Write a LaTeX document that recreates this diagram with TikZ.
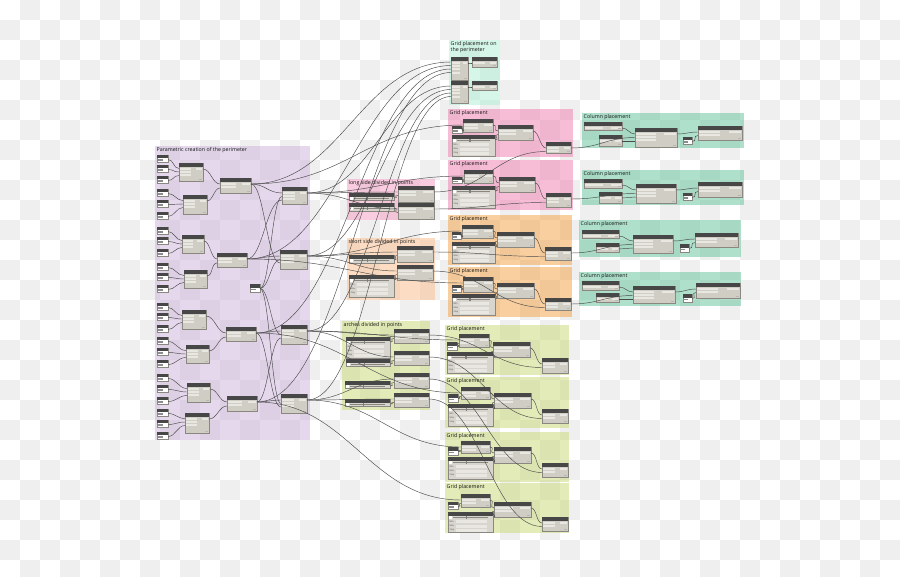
\documentclass[tikz,border=0pt]{standalone}
\usepackage{fontspec}
\setmainfont{Open Sans}
\usetikzlibrary{calc}
\definecolor{chk}{HTML}{EFEFEF}
\definecolor{gpur}{RGB}{205,179,221}
\definecolor{gmint}{RGB}{173,239,213}
\definecolor{gpink}{RGB}{241,125,175}
\definecolor{gorg}{RGB}{245,161,65}
\definecolor{gpeach}{RGB}{251,189,137}
\definecolor{gpinkl}{RGB}{245,155,195}
\definecolor{glime}{RGB}{201,217,115}
\definecolor{gteal}{RGB}{95,195,155}
\definecolor{ng}{HTML}{D0CDC5}
\definecolor{sg}{HTML}{D8D5CE}
\definecolor{nb}{HTML}{8A8781}
\definecolor{hd}{HTML}{474747}
\definecolor{rw}{HTML}{E9E7E2}
\definecolor{wirec}{HTML}{4A4A4A}
\definecolor{titc}{HTML}{151515}
\tikzset{
 wire/.style={draw=wirec, line width=0.45pt},
 dn/.style={draw=nb, fill=ng, line width=0.3pt, inner sep=0pt, outer sep=0pt, anchor=north west, rectangle},
 gtitle/.style={anchor=north west, inner sep=0pt, font=\fontsize{5.3}{6.3}\selectfont, text=titc, align=left},
 tinylab/.style={inner sep=0pt, font=\fontsize{2.2}{2.4}\selectfont, text=black!70, anchor=west},
}
\newcommand{\GRP}[7]{%
 \fill[#6, fill opacity=0.5] (#2,#3) rectangle (#4,#5);
 \node[gtitle] (#1) at (#2+1.5,#3+1.2) {#7};}
\newcommand{\DN}[6]{%
 \node[dn, minimum width={(#4-#2)*1pt}, minimum height={(#5-#3)*1pt}] (#1) at (#2,#3) {};
 \fill[hd] (#2,#3) rectangle (#4,#3+3.6);
 \foreach \k in {1,...,#6}{\fill[rw] (#2+1,{#3+4.6+(\k-1)*3.3}) rectangle ({#2+0.5*(#4-#2)},{#3+6.8+(\k-1)*3.3});}
 \fill[rw] ({#4-0.3*(#4-#2)},#3+4.6) rectangle (#4-1,#3+6.8);
 \fill[nb!60] (#4-4,#5-2) rectangle (#4-1,#5-1);}
\newcommand{\SL}[6]{%
 \node[dn, fill=sg, minimum width={(#4-#2)*1pt}, minimum height={(#5-#3)*1pt}] (#1) at (#2,#3) {};
 \fill[hd] (#2,#3) rectangle (#4,#3+3.6);
 \fill[white] (#2+1.2,#3+4.4) rectangle (#2+3.6,#3+6.8);
 \draw[nb, line width=0.3pt] (#2+5,#3+5.6) -- (#4-5,#3+5.6);
 \fill[hd!70] ({#2+0.4*(#4-#2)},#3+4.3) rectangle ({#2+0.4*(#4-#2)+1.4},#3+6.9);
 \ifnum#6=1
 \foreach \lab [count=\c] in {Min,Max,Step}{%
  \fill[rw] (#2+8,{#3+8.3+(\c-1)*4.3}) rectangle (#4-6,{#3+11.3+(\c-1)*4.3});
  \node[tinylab] (#1l\c) at (#2+1.5,{#3+9.8+(\c-1)*4.3}) {\lab};}
 \fi}
\newcommand{\IN}[5]{%
 \node[dn, fill=white, minimum width={(#4-#2)*1pt}, minimum height={(#5-#3)*1pt}] (#1) at (#2,#3) {};
 \fill[hd] (#2,#3) rectangle (#4,{#3+0.45*(#5-#3)});
 \fill[black!45] (#2+1,{#3+0.62*(#5-#3)}) rectangle ({#2+0.55*(#4-#2)},{#3+0.8*(#5-#3)});}
\newcommand{\W}[4]{\edef\wsrc{#1}\edef\wdst{#3}\draw[wire] let \p1=([yshift=-#2pt]\wsrc.north east), \p2=([yshift=-#4pt]\wdst.north west), \n1={max(6,0.45*abs(\x2-\x1))} in (\p1) .. controls +(\n1,0) and +(-\n1,0) .. (\p2);}
\begin{document}
\begin{tikzpicture}[x=1pt,y=-1pt]
\useasboundingbox (0,0) rectangle (900,576);
\clip (0,0) rectangle (900,576);
\fill[white] (0,0) rectangle (900,576);
\foreach \i in {0,...,44}{\foreach \j in {0,...,28}{\pgfmathtruncatemacro\s{mod(\i+\j,2)}\ifnum\s=1 \fill[chk] (\i*20,\j*20) rectangle ++(20,20);\fi}}
% groups
\GRP{tP}{155}{146}{310}{440}{gpur}{Parametric creation of the perimeter}
\GRP{tM}{449}{40}{500}{105}{gmint}{Grid placement on\\the perimeter}
\GRP{tG1}{448}{109}{573}{157}{gpink}{Grid placement}
\GRP{tG2}{448}{160}{573}{210}{gpink}{Grid placement}
\GRP{tLS}{347}{179}{435}{220}{gpinkl}{long side divided in points}
\GRP{tSS}{347}{238}{435}{300}{gpeach}{short side divided in points}
\GRP{tG3}{448}{215}{572}{265}{gorg}{Grid placement}
\GRP{tG4}{448}{267}{572}{317}{gorg}{Grid placement}
\GRP{tAR}{342}{321}{430}{410}{glime}{arches divided in points}
\GRP{tG5}{445}{325}{569}{375}{glime}{Grid placement}
\GRP{tG6}{445}{377}{569}{428}{glime}{Grid placement}
\GRP{tG7}{445}{432}{569}{482}{glime}{Grid placement}
\GRP{tG8}{445}{483}{569}{533}{glime}{Grid placement}
\GRP{tC1}{582}{113}{744}{148}{gteal}{Column placement}
\GRP{tC2}{582}{170}{744}{205}{gteal}{Column placement}
\GRP{tC3}{579}{220}{741}{257}{gteal}{Column placement}
\GRP{tC4}{579}{272}{741}{306}{gteal}{Column placement}
% purple group nodes
\foreach \yy [count=\q] in {155,165,176,189,200,212,227,237,249,263,273,285,303,313,325,337,348,360,374,385,397,409,420,432}{\IN{i\q}{157}{\yy}{168}{\yy+7}}
\DN{P1}{179}{163}{203}{181}{3}
\DN{P2}{183}{195}{207}{214}{3}
\DN{P3}{182}{235}{204}{253}{3}
\DN{P4}{184}{270}{207}{288}{3}
\DN{P5}{182}{310}{206}{329}{3}
\DN{P6}{186}{345}{209}{363}{3}
\DN{P7}{187}{383}{210}{402}{3}
\DN{P8}{185}{413}{209}{433}{3}
\DN{L1}{220}{178}{251}{193}{2}
\DN{L2}{217}{253}{247}{267}{2}
\DN{L3}{226}{327}{256}{341}{2}
\DN{L4}{227}{396}{257}{411}{2}
\DN{R1}{282}{187}{307}{204}{3}
\DN{R2}{280}{250}{307}{269}{3}
\DN{R3}{281}{325}{307}{344}{3}
\DN{R4}{281}{394}{307}{413}{3}
\IN{X}{250}{284}{260}{292}
% mint
\DN{A}{451}{57}{468}{80}{4}
\DN{B}{472}{57}{497}{67}{1}
\DN{C}{451}{81}{468}{103}{4}
\DN{D}{472}{81}{497}{90}{1}
% long / short / arches
\SL{LSs1}{349}{193}{394}{200}{0}
\SL{LSs2}{349}{203}{394}{211}{0}
\DN{LSa}{398}{186}{434}{202}{2}
\DN{LSb}{398}{203}{434}{219}{2}
\SL{SSs1}{349}{255}{394}{263}{0}
\SL{SSs2}{349}{275}{394}{297}{1}
\DN{SSa}{397}{246}{433}{262}{2}
\DN{SSb}{397}{265}{433}{280}{2}
\SL{ARs1}{346}{337}{390}{358}{1}
\SL{ARs2}{346}{359}{390}{366}{0}
\SL{ARs3}{345}{381}{390}{388}{0}
\SL{ARs4}{345}{399}{390}{406}{0}
\DN{ARa}{394}{329}{429}{343}{2}
\DN{ARb}{394}{351}{429}{365}{2}
\DN{ARc}{394}{373}{429}{388}{2}
\DN{ARd}{394}{393}{429}{407}{2}
% grid groups
\foreach \k/\ia/\ib/\ic/\id/\ga/\gb/\gc/\gd/\sa/\sb/\sc/\sd/\ma/\mb/\mc/\md/\ra/\rb/\rc/\rd in {
1/452/126/462/133/463/119/493/132/452/135/495/156/498/125/533/140/546/142/571/153,
2/452/177/462/183/464/170/493/183/452/186/495/208/499/177/535/192/546/193/571/207,
3/452/232/461/239/462/225/493/238/452/242/495/263/497/232/534/247/545/247/571/260,
4/452/285/461/292/463/277/493/292/452/294/495/315/497/283/534/298/545/298/571/310,
5/447/342/457/350/459/334/489/347/447/352/493/373/493/342/530/357/542/358/568/373,
6/448/394/458/402/461/387/490/399/448/404/493/426/494/393/531/408/542/409/568/423,
7/448/447/458/455/461/441/490/453/448/457/493/479/494/447/531/463/542/463/568/477,
8/448/502/458/509/461/494/490/507/448/512/493/532/494/502/531/517/542/517/568/531}{
 \IN{gi\k}{\ia}{\ib}{\ic}{\id}
 \DN{gG\k}{\ga}{\gb}{\gc}{\gd}{2}
 \SL{gS\k}{\sa}{\sb}{\sc}{\sd}{1}
 \DN{gM\k}{\ma}{\mb}{\mc}{\md}{2}
 \DN{gR\k}{\ra}{\rb}{\rc}{\rd}{2}
}
% column groups
\foreach \k/\fa/\fb/\fc/\fd/\la/\lb/\lc/\ld/\ma/\mb/\mc/\md/\ia/\ib/\ic/\id/\ra/\rb/\rc/\rd in {
1/584/122/622/130/599/135/622/146/635/128/677/147/683/137/692/144/698/126/742/140,
2/584/179/622/188/599/192/622/203/636/184/676/203/683/193/692/200/698/182/742/197,
3/582/230/619/238/596/243/619/252/633/235/673/253/680/244/689/252/695/233/738/247,
4/582/281/619/290/596/293/619/302/633/286/675/303/683/294/692/302/696/283/740/298}{
 \DN{Ft\k}{\fa}{\fb}{\fc}{\fd}{1}
 \DN{Lv\k}{\la}{\lb}{\lc}{\ld}{1}
 \DN{Mt\k}{\ma}{\mb}{\mc}{\md}{3}
 \IN{it\k}{\ia}{\ib}{\ic}{\id}
 \DN{Rt\k}{\ra}{\rb}{\rc}{\rd}{2}
}
% ---------- wires ----------
\foreach \m in {1,...,24}{\pgfmathtruncatemacro\pp{int((\m-1)/3)+1}\pgfmathsetmacro\dd{5.5+3.5*mod(\m-1,3)}\W{i\m}{4.5}{P\pp}{\dd}}
\W{P1}{6}{L1}{6}\W{P2}{6}{L1}{10}
\W{P3}{6}{L2}{6}\W{P4}{6}{L2}{10}
\W{P5}{6}{L3}{6}\W{P6}{6}{L3}{10}
\W{P7}{6}{L4}{6}\W{P8}{6}{L4}{10}
\W{L1}{6}{R1}{6}\W{L2}{6}{R2}{6}\W{L3}{6}{R3}{6}\W{L4}{6}{R4}{6}
\W{L2}{6}{R1}{13}\W{L1}{6}{R2}{13}\W{L4}{6}{R3}{13}\W{L3}{6}{R4}{13}
\W{X}{4.5}{R1}{9.5}\W{X}{4.5}{R2}{9.5}\W{X}{4.5}{R3}{9.5}\W{X}{4.5}{R4}{9.5}
% to mint
\W{L1}{6}{A}{5}\W{L2}{6}{A}{8.5}\W{L3}{6}{A}{12}\W{L4}{6}{A}{15.5}
\W{R1}{6}{C}{5}\W{R2}{6}{C}{8.5}\W{R3}{6}{C}{12}\W{R4}{6}{C}{15.5}
\W{A}{6}{B}{6}\W{C}{6}{D}{6}
% to point groups
\W{R1}{6}{LSa}{6}\W{R1}{6}{LSb}{6}\W{LSs1}{5}{LSa}{9.5}\W{LSs2}{5}{LSb}{9.5}
\W{R2}{6}{SSa}{6}\W{R2}{6}{SSb}{6}\W{SSs1}{5}{SSa}{9.5}\W{SSs2}{5}{SSb}{9.5}
\W{R3}{6}{ARa}{6}\W{R3}{6}{ARb}{6}\W{R4}{6}{ARc}{6}\W{R4}{6}{ARd}{6}
\W{ARs1}{5}{ARa}{9.5}\W{ARs2}{5}{ARb}{9.5}\W{ARs3}{5}{ARc}{9.5}\W{ARs4}{5}{ARd}{9.5}
% to grid groups
\W{L1}{6}{gG1}{6}\W{R1}{6}{gG2}{6}\W{R2}{6}{gG3}{6}\W{L2}{6}{gG4}{6}
\W{R3}{6}{gG5}{6}\W{L3}{6}{gG6}{6}\W{R4}{6}{gG7}{6}\W{L4}{6}{gG8}{6}
\foreach \k in {1,...,8}{\W{gi\k}{4.5}{gG\k}{9.5}\W{gG\k}{6}{gM\k}{6}\W{gS\k}{5}{gM\k}{9.5}\W{gM\k}{6}{gR\k}{6}}
\W{LSa}{6}{gR1}{9.5}\W{LSb}{6}{gR2}{9.5}\W{SSa}{6}{gR3}{9.5}\W{SSb}{6}{gR4}{9.5}
\W{ARa}{6}{gR5}{9.5}\W{ARb}{6}{gR6}{9.5}\W{ARc}{6}{gR7}{9.5}\W{ARd}{6}{gR8}{9.5}
% to columns
\foreach \k in {1,...,4}{\W{Ft\k}{6}{Mt\k}{6}\W{gR\k}{6}{Mt\k}{9.5}\W{Lv\k}{6}{Mt\k}{13}\W{Mt\k}{6}{Rt\k}{6}\W{it\k}{4.5}{Rt\k}{9.5}}
\end{tikzpicture}
\end{document}
